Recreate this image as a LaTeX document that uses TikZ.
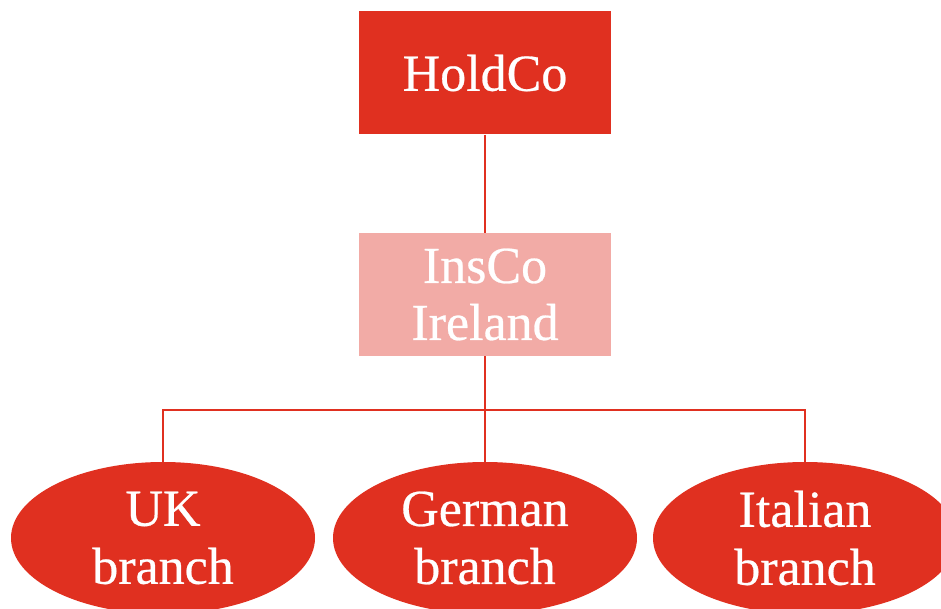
\documentclass[tikz,border=0pt]{standalone}
\usepackage{fontspec}
\setmainfont{Liberation Serif}[FakeBold=0.5]
\usetikzlibrary{shapes.geometric}
\definecolor{dred}{HTML}{E03020}
\definecolor{lpink}{HTML}{F2ABA6}
\begin{document}
\begin{tikzpicture}[x=1pt,y=1pt,
  boxstyle/.style={rectangle, fill=#1, minimum width=252pt, minimum height=123pt, inner sep=0pt,
    text=white, align=center, font=\fontsize{52}{57}\selectfont},
  ovalstyle/.style={ellipse, fill=dred, minimum width=304pt, minimum height=152pt, inner sep=0pt,
    text=white, align=center, font=\fontsize{52}{58}\selectfont},
  conn/.style={draw=dred, line width=1.8pt}]
\useasboundingbox (0,0) rectangle (941,609);
\clip (0,0) rectangle (941,609);
\node[boxstyle=dred] (hold) at (485,536) {HoldCo};
\node[boxstyle=lpink] (insco) at (485,314.5) {InsCo\\Ireland};
\node[ovalstyle] (uk) at (163,71) {UK\\branch};
\node[ovalstyle] (german) at (485,71) {German\\branch};
\node[ovalstyle] (italian) at (805,71) {Italian\\branch};
\coordinate (busL) at (163,199);
\coordinate (busR) at (805,199);
\draw[conn] (hold) -- (insco);
\draw[conn] (insco) -- (german);
\draw[conn] (uk.north) -- (busL) -- (busR) -- (italian.north);
\end{tikzpicture}
\end{document}
